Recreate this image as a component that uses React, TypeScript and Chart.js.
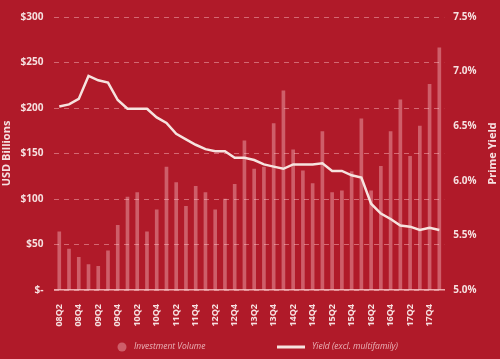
import React, { useEffect, useRef } from "react";
import { Chart, registerables } from "chart.js";

Chart.register(...registerables);

const quarters = [
  "08Q2", "08Q3", "08Q4", "09Q1", "09Q2", "09Q3", "09Q4", "10Q1", "10Q2", "10Q3",
  "10Q4", "11Q1", "11Q2", "11Q3", "11Q4", "12Q1", "12Q2", "12Q3", "12Q4", "13Q1",
  "13Q2", "13Q3", "13Q4", "14Q1", "14Q2", "14Q3", "14Q4", "15Q1", "15Q2", "15Q3",
  "15Q4", "16Q1", "16Q2", "16Q3", "16Q4", "17Q1", "17Q2", "17Q3", "17Q4", "18Q1",
];

const investmentVolume = [
  64, 45, 36, 28, 26, 43, 71, 102, 107, 64,
  88, 135, 118, 92, 114, 107, 88, 100, 116, 164,
  133, 135, 183, 219, 154, 131, 117, 174, 107, 109,
  130, 188, 109, 136, 174, 209, 147, 180, 226, 266,
];

const primeYield = [
  6.68, 6.7, 6.75, 6.96, 6.92, 6.9, 6.74, 6.66, 6.66, 6.66,
  6.58, 6.53, 6.43, 6.38, 6.33, 6.29, 6.27, 6.27, 6.21, 6.21,
  6.19, 6.15, 6.13, 6.11, 6.15, 6.15, 6.15, 6.16, 6.09, 6.09,
  6.05, 6.03, 5.79, 5.7, 5.65, 5.59, 5.58, 5.55, 5.57, 5.55,
];

const volumeTicks = [0, 50, 100, 150, 200, 250, 300];
const yieldTicks = [5.0, 5.5, 6.0, 6.5, 7.0, 7.5];

const BG = "#b01a29";
const BAR = "rgba(255, 205, 210, 0.38)";
const LINE = "#f6e3df";
const TICK = "#f6e0e0";
const LEGEND_TEXT = "#eab3b8";
const FONT = "'Open Sans', 'Noto Sans', sans-serif";

export default function App() {
  const ref = useRef<HTMLCanvasElement | null>(null);

  useEffect(() => {
    document.body.style.margin = "0";
    document.body.style.background = BG;
    const canvas = ref.current;
    if (!canvas) return;

    const bgPlugin = {
      id: "bg",
      beforeDraw(chart: any) {
        const ctx = chart.ctx;
        ctx.save();
        ctx.fillStyle = BG;
        ctx.fillRect(0, 0, chart.width, chart.height);
        ctx.restore();
      },
    };

    const extrasPlugin = {
      id: "extras",
      afterDraw(chart: any) {
        const ctx = chart.ctx;
        const area = chart.chartArea;
        ctx.save();
        // right axis title, reading bottom-to-top
        ctx.translate(493, (area.top + area.bottom) / 2);
        ctx.rotate(-Math.PI / 2);
        ctx.fillStyle = TICK;
        ctx.font = `bold 11px ${FONT}`;
        ctx.textAlign = "center";
        ctx.textBaseline = "middle";
        ctx.fillText("Prime Yield", 0, 0);
        ctx.restore();

        // legend
        const ds = chart.data.datasets;
        const y = 347;
        ctx.save();
        ctx.fillStyle = BAR;
        ctx.beginPath();
        ctx.arc(122, y, 4.5, 0, Math.PI * 2);
        ctx.fill();
        ctx.font = `italic 8.5px ${FONT}`;
        ctx.fillStyle = LEGEND_TEXT;
        ctx.textBaseline = "middle";
        ctx.textAlign = "left";
        ctx.fillText(ds[1].label, 134, y);
        ctx.strokeStyle = LINE;
        ctx.lineWidth = 3;
        ctx.beginPath();
        ctx.moveTo(277, y);
        ctx.lineTo(305, y);
        ctx.stroke();
        ctx.fillText(ds[0].label, 312, y);
        ctx.restore();
      },
    };

    const chart = new Chart(canvas, {
      type: "bar",
      data: {
        labels: quarters,
        datasets: [
          {
            type: "line",
            label: "Yield (excl. multifamily)",
            data: primeYield,
            yAxisID: "y1",
            borderColor: LINE,
            borderWidth: 2.5,
            pointRadius: 0,
            tension: 0,
            order: 0,
          } as any,
          {
            type: "bar",
            label: "Investment Volume",
            data: investmentVolume,
            yAxisID: "y",
            backgroundColor: BAR,
            barThickness: 3,
            order: 1,
          },
        ],
      },
      plugins: [bgPlugin, extrasPlugin],
      options: {
        responsive: false,
        animation: false,
        layout: { padding: { top: 15, bottom: 27, left: 0, right: 0 } },
        plugins: {
          legend: { display: false },
          tooltip: { enabled: false },
        },
        scales: {
          x: {
            offset: true,
            grid: { display: false },
            border: { display: true, color: "rgba(255, 215, 215, 0.75)", width: 1.5 },
            afterFit(scale: any) {
              scale.height = 42;
            },
            ticks: {
              autoSkip: false,
              maxRotation: 90,
              minRotation: 90,
              padding: 6,
              color: TICK,
              font: { family: FONT, size: 9, weight: "bold" },
              callback: (_v: any, i: number) => (i % 2 === 0 ? quarters[i] : ""),
            },
          },
          y: {
            position: "left",
            min: volumeTicks[0],
            max: volumeTicks[volumeTicks.length - 1],
            afterBuildTicks(scale: any) {
              scale.ticks = volumeTicks.map((v) => ({ value: v }));
            },
            afterFit(scale: any) {
              scale.width = 54.4;
            },
            grid: {
              color: "rgba(255, 200, 205, 0.45)",
              lineWidth: 1,
              drawTicks: false,
            },
            border: { display: false, dash: [5, 5] },
            ticks: {
              padding: 11,
              color: TICK,
              font: { family: FONT, size: 10, weight: "bold" },
              callback: (v: any) => (Number(v) === 0 ? "$-" : "$" + v),
            },
            title: {
              display: true,
              text: "USD Billions",
              color: TICK,
              font: { family: FONT, size: 11, weight: "bold" },
              padding: { top: 0, bottom: 0 },
            },
          },
          y1: {
            position: "right",
            min: yieldTicks[0],
            max: yieldTicks[yieldTicks.length - 1],
            afterBuildTicks(scale: any) {
              scale.ticks = yieldTicks.map((v) => ({ value: v }));
            },
            afterFit(scale: any) {
              scale.width = 55.8;
            },
            grid: { display: false, drawTicks: false },
            border: { display: false },
            ticks: {
              padding: 9,
              color: TICK,
              font: { family: FONT, size: 10, weight: "bold" },
              callback: (v: any) => Number(v).toFixed(1) + "%",
            },
          },
        },
      } as any,
    });

    return () => chart.destroy();
  }, []);

  return (
    <div style={{ width: 500, height: 359, background: BG }}>
      <canvas ref={ref} width={500} height={359} style={{ display: "block" }} />
    </div>
  );
}
